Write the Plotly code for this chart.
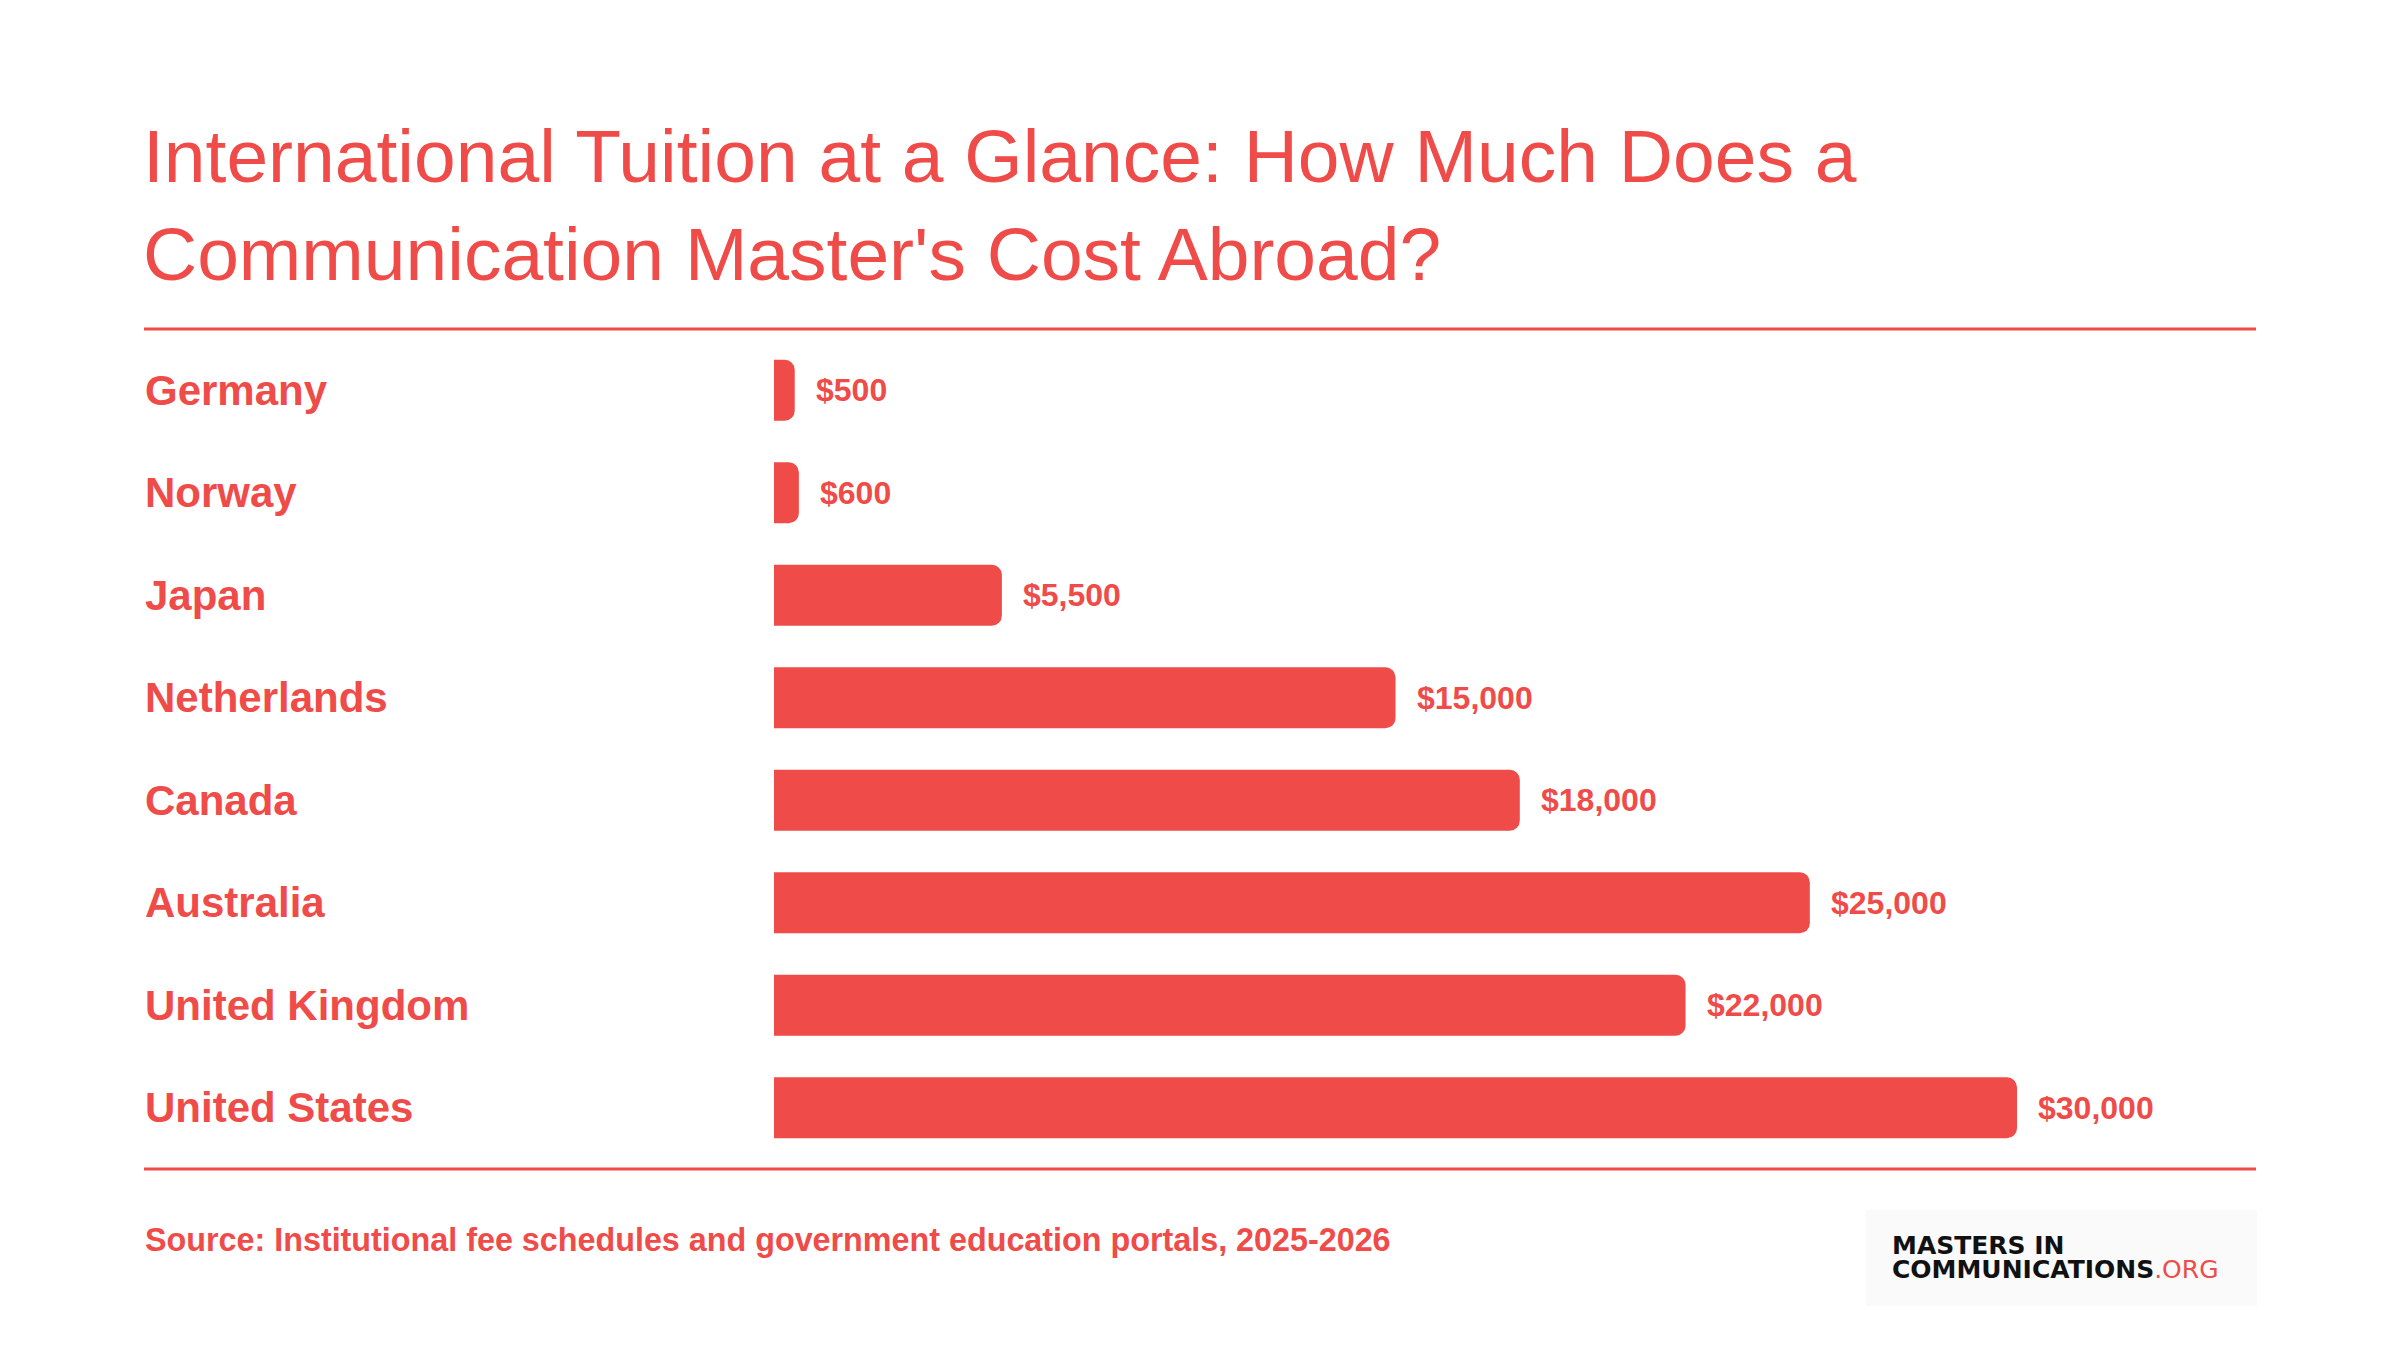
import plotly.graph_objects as go

# ---- data ----
countries = ["Germany", "Norway", "Japan", "Netherlands", "Canada",
             "Australia", "United Kingdom", "United States"]
tuition_usd = [500, 600, 5500, 15000, 18000, 25000, 22000, 30000]
title_lines = ["International Tuition at a Glance: How Much Does a",
               "Communication Master's Cost Abroad?"]
source_text = "Source: Institutional fee schedules and government education portals, 2025-2026"
logo_line1 = "MASTERS IN"
logo_line2 = "COMMUNICATIONS"
logo_suffix = ".ORG"

# ---- style ----
RED = "#EF4B48"
FONT = "Liberation Sans, Arial, Helvetica, sans-serif"
W, H = 2400, 1350
ML, MR, MT, MB = 774, 144, 339, 191
PLOT_W = W - ML - MR
PLOT_H = H - MT - MB
LEFT_PX = 143  # left edge of text column


def px_x(px):
    return (px - ML) / PLOT_W


def px_y(py):
    return (H - MB - py) / PLOT_H


fig = go.Figure()
fig.add_trace(go.Bar(
    y=countries,
    x=tuition_usd,
    orientation="h",
    marker=dict(color=RED, line=dict(width=0)),
    hoverinfo="skip",
))

annotations = []
for c, v in zip(countries, tuition_usd):
    annotations.append(dict(
        x=px_x(LEFT_PX), xref="paper", y=c, yref="y",
        text=f"<b>{c}</b>", showarrow=False, xanchor="left", yanchor="middle",
        font=dict(family=FONT, size=42, color=RED),
    ))
    annotations.append(dict(
        x=v, xref="x", y=c, yref="y", xshift=19,
        text=f"<b>${v:,}</b>", showarrow=False, xanchor="left", yanchor="middle",
        font=dict(family=FONT, size=32, color=RED),
    ))

annotations.append(dict(
    x=px_x(LEFT_PX), xref="paper", y=px_y(1240), yref="paper",
    text=f"<b>{source_text}</b>", showarrow=False, xanchor="left", yanchor="middle",
    font=dict(family=FONT, size=32.3, color=RED),
))
# logo: small base size keeps the two lines tight, spans carry the real size
logo_span = "<span style='font-size:25px'>"
annotations.append(dict(
    x=px_x(1890), xref="paper", y=px_y(1257), yref="paper",
    text=(f"{logo_span}<b>{logo_line1}</b></span><br>"
          f"{logo_span}<b>{logo_line2}</b><span style='color:{RED}'>{logo_suffix}</span></span>"),
    showarrow=False, xanchor="left", yanchor="middle", align="left",
    font=dict(family="DejaVu Sans, sans-serif", size=18.5, color="#111111"),
))

shapes = [
    dict(type="line", xref="paper", yref="paper",
         x0=px_x(LEFT_PX + 1), x1=px_x(2256), y0=px_y(329), y1=px_y(329),
         line=dict(color=RED, width=3)),
    dict(type="line", xref="paper", yref="paper",
         x0=px_x(LEFT_PX + 1), x1=px_x(2256), y0=px_y(1169), y1=px_y(1169),
         line=dict(color=RED, width=3)),
    dict(type="rect", xref="paper", yref="paper", layer="below",
         x0=px_x(1866), x1=px_x(2257), y0=px_y(1306), y1=px_y(1210),
         fillcolor="#FAFAFA", line=dict(width=0)),
]

fig.update_layout(
    width=W, height=H,
    margin=dict(l=ML, r=MR, t=MT, b=MB, pad=0),
    paper_bgcolor="white", plot_bgcolor="white",
    showlegend=False,
    bargap=0.405,
    barcornerradius=10,
    title=dict(
        text="<br>".join(title_lines),
        x=LEFT_PX / W, xref="container", xanchor="left",
        y=1 - 182 / H, yref="container", yanchor="top",
        font=dict(family=FONT, size=75, color=RED),
    ),
    xaxis=dict(range=[0, 30000 * PLOT_W / 1243], visible=False, fixedrange=True),
    yaxis=dict(categoryorder="array", categoryarray=countries,
               autorange="reversed", visible=False, fixedrange=True),
    annotations=annotations,
    shapes=shapes,
)

fig.write_html("out.html")
